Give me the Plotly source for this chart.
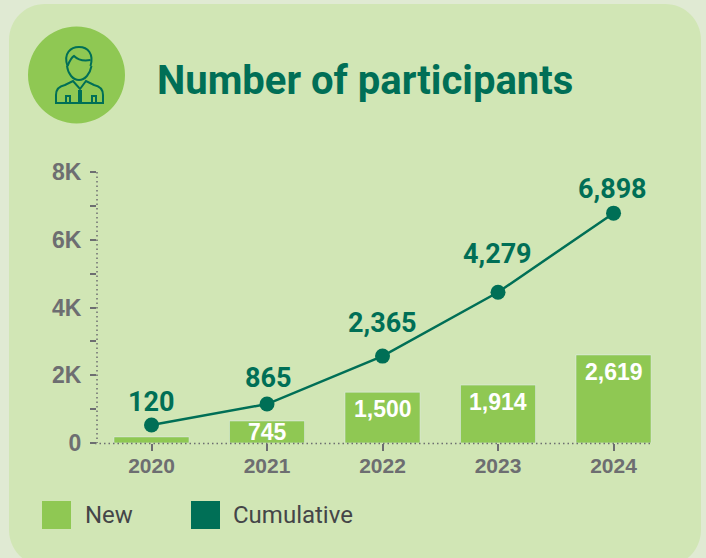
import re
import plotly.graph_objects as go

W, H = 706, 558

years = ["2020", "2021", "2022", "2023", "2024"]
new_heights = [180, 650, 1500, 1710, 2600]
cumulative_heights = [530, 1150, 2565, 4450, 6785]
new_labels = ["", "745", "1,500", "1,914", "2,619"]
cumulative_labels = ["120", "865", "2,365", "4,279", "6,898"]
y_ticks = [0, 2000, 4000, 6000, 8000]
y_tick_labels = ["0", "2K", "4K", "6K", "8K"]

GREEN = "#8fc853"
DARK = "#006f56"
CARD = "#d1e6b5"
OUTER = "#e0ead3"
GRAY = "#6d6e71"
TEXT = "#444548"


def px(x):
    return x / W


def py(y):
    return 1 - y / H


def path(d):
    """Convert a pixel-space SVG path to paper coordinates."""
    def conv(m):
        return f"{px(float(m.group(1))):.5f},{py(float(m.group(2))):.5f}"
    return re.sub(r"(-?[\d.]+),(-?[\d.]+)", conv, d)


fig = go.Figure()
fig.add_trace(go.Bar(x=years, y=new_heights, name="New", marker_color=GREEN, width=0.65, showlegend=False))
fig.add_trace(go.Scatter(x=years, y=cumulative_heights, name="Cumulative", mode="lines+markers",
                         line=dict(color=DARK, width=2.5), marker=dict(color=DARK, size=15), showlegend=False))

shapes = [
    dict(type="path", xref="paper", yref="paper", layer="below", line_width=0, fillcolor=CARD,
         path=path("M45,4 L665,4 C685,4 701,20 701,40 L701,530 C701,550 685,566 665,566 L45,566 "
                   "C25,566 9,550 9,530 L9,40 C9,20 25,4 45,4 Z")),
    dict(type="circle", xref="paper", yref="paper", layer="below", line_width=0, fillcolor=GREEN,
         x0=px(28), x1=px(125), y0=py(123.5), y1=py(26.5)),
    dict(type="line", xref="paper", yref="paper", layer="below", x0=px(97), x1=px(97), y0=py(172), y1=py(443),
         line=dict(color=GRAY, width=1.5, dash="1.5px,3px")),
    dict(type="line", xref="paper", yref="paper", layer="above", x0=px(95), x1=px(652), y0=py(443.5), y1=py(443.5),
         line=dict(color=GRAY, width=1.5, dash="1.5px,3px")),
    dict(type="rect", xref="paper", yref="paper", line_width=0, fillcolor=GREEN,
         x0=px(42), x1=px(71), y0=py(529), y1=py(501)),
    dict(type="rect", xref="paper", yref="paper", line_width=0, fillcolor=DARK,
         x0=px(191), x1=px(220), y0=py(529), y1=py(501)),
]
icon = [
    "M67.5,66 C63,53 71,47 79,47 C88,47 94,54 90.5,66",
    "M67.5,66 C70,60 72,57 74,56 C78,60 85,61 90.5,60",
    "M67,66 C68,74 73,80 79,80 C85,80 90,74 91.5,66",
    "M56,103 L56,95 C56,88 60,86 65,85 L73,81 L80,89 L86,81 L94,85 C99,86 103,88 103,95 L103,103 Z",
    "M66,103 L66,96 L70,96 L70,103",
    "M92,103 L92,96 L96,96 L96,103",
    "M80,90 L80,103",
]
for i, d in enumerate(icon):
    shapes.append(dict(type="path", xref="paper", yref="paper", path=path(d), layer="above",
                       line=dict(color=DARK, width=4 if i == 6 else 2), fillcolor="rgba(0,0,0,0)"))

annotations = [
    dict(text="<b>Number of participants</b>", xref="paper", yref="paper", x=px(155), y=py(81), xanchor="left",
         yanchor="middle", showarrow=False, font=dict(family="Roboto", size=40, color=DARK)),
    dict(text="New", xref="paper", yref="paper", x=px(83), y=py(515), xanchor="left", yanchor="middle",
         showarrow=False, font=dict(family="Roboto", size=24, color=TEXT)),
    dict(text="Cumulative", xref="paper", yref="paper", x=px(231), y=py(515), xanchor="left", yanchor="middle",
         showarrow=False, font=dict(family="Roboto", size=24, color=TEXT)),
]
line_shift = [23, 26, 33, 38, 24]
line_xshift = [-1, 1, 0, -1, -1]
for i, (v, lab, s, xs) in enumerate(zip(cumulative_heights, cumulative_labels, line_shift, line_xshift)):
    annotations.append(dict(text=f"<b>{lab}</b>", x=i, y=v, xref="x", yref="y", yshift=s, xshift=xs, showarrow=False,
                            font=dict(family="Roboto", size=27, color=DARK)))
bar_shift = [0, -11, -17, -17, -17]
for i, (v, lab, s) in enumerate(zip(new_heights, new_labels, bar_shift)):
    if lab:
        annotations.append(dict(text=f"<b>{lab}</b>", x=i, y=v, xref="x", yref="y", yshift=s, showarrow=False,
                                font=dict(family="Liberation Sans", size=23, color="white")))

fig.update_layout(
    width=W, height=H, margin=dict(l=0, r=0, t=0, b=0, autoexpand=False), paper_bgcolor=OUTER,
    plot_bgcolor="rgba(0,0,0,0)",
    shapes=shapes, annotations=annotations, showlegend=False, bargap=0.35,
    xaxis=dict(domain=[px(97), px(652)], range=[-0.472, 4.333], type="category", showgrid=False, showline=False,
               zeroline=False, automargin=False, ticks="outside", ticklen=7, tickwidth=1.5, tickcolor=GRAY,
               ticklabelstandoff=-3,
               tickfont=dict(family="Liberation Sans", size=21, color=GRAY, weight="bold")),
    yaxis=dict(domain=[py(443), py(172)], range=[0, 8000], showgrid=False, showline=False, zeroline=False,
               automargin=False, ticklabelstandoff=4,
               tickvals=y_ticks, ticktext=y_tick_labels, ticks="outside", ticklen=6, tickwidth=1.5, tickcolor=GRAY,
               tickfont=dict(family="Liberation Sans", size=23, color=GRAY, weight="bold"),
               minor=dict(tickvals=[1000, 3000, 5000, 7000], ticks="outside", ticklen=6, tickwidth=1.5,
                          tickcolor=GRAY)),
)
fig.write_html("out.html", config=dict(displayModeBar=False),
               post_script=f"document.body.style.margin='0';document.body.style.background='{OUTER}';")
